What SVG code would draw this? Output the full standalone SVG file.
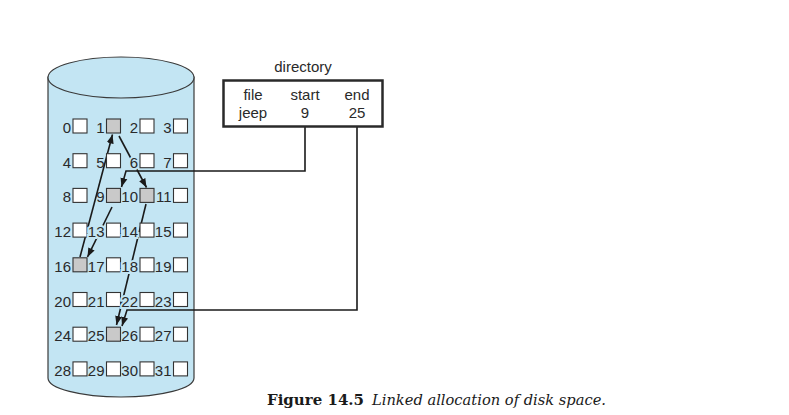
<svg xmlns="http://www.w3.org/2000/svg" width="789" height="415" viewBox="0 0 789 415">
<style>
.cyl{fill:#c3e5f3;stroke:#3a3a3a;stroke-width:1.2}
.sq{fill:#fff;stroke:#333;stroke-width:1.1}
.sh{fill:#c9c9c9;stroke:#333;stroke-width:1.1}
.lb{font-family:"Liberation Sans",Arial,sans-serif;font-size:15px;fill:#2a2a2a;text-anchor:end}
.k{stroke:#c3e5f3;stroke-width:4;paint-order:stroke}
.dt{font-family:"Liberation Sans",Arial,sans-serif;font-size:15px;fill:#2a2a2a;text-anchor:middle}
.ln{fill:none;stroke:#1a1a1a;stroke-width:1.6}
.cap{font-family:"DejaVu Serif","Liberation Serif",serif;font-size:15px;fill:#1a1a1a}
</style>
<defs>
<marker id="ah" markerUnits="userSpaceOnUse" markerWidth="10" markerHeight="10" viewBox="0 0 10 10" refX="9" refY="5" orient="auto">
<path d="M0,1.5 L9,5 L0,8.5 Z" fill="#1a1a1a"/>
</marker>
</defs>
<g id="disk">
<path class="cyl" d="M48,77 L48,378 A73,19 0 0 0 194,378 L194,77 Z"/>
<ellipse class="cyl" cx="121" cy="77.5" rx="73" ry="20.5"/>
</g>
<g id="connectors">
<path class="ln" marker-end="url(#ah)" d="M305,127 V171 H126 L121.5,187"/>
<path class="ln" marker-end="url(#ah)" d="M357,127 V310 H127 L122,326"/>
<path class="ln" marker-end="url(#ah)" d="M112,207 L87.5,257"/>
<path class="ln" marker-end="url(#ah)" d="M80,257 L112.5,134.5"/>
<path class="ln" marker-end="url(#ah)" d="M119,136 L146.5,187.5"/>
<path class="ln" marker-end="url(#ah)" d="M146,204 L116.5,325"/>
</g>
<g id="blocks">
<g id="b0"><text class="lb" x="71" y="133">0</text><rect class="sq" x="73" y="119" width="14" height="14"/></g>
<g id="b1"><text class="lb" x="104.5" y="133">1</text><rect class="sh" x="106.5" y="119" width="14" height="14"/></g>
<g id="b2"><text class="lb" x="138" y="133">2</text><rect class="sq" x="140" y="119" width="14" height="14"/></g>
<g id="b3"><text class="lb" x="171.5" y="133">3</text><rect class="sq" x="173.5" y="119" width="14" height="14"/></g>
<g id="b4"><text class="lb" x="71" y="167.7">4</text><rect class="sq" x="73" y="153.7" width="14" height="14"/></g>
<g id="b5"><text class="lb" x="104.5" y="167.7">5</text><rect class="sq" x="106.5" y="153.7" width="14" height="14"/></g>
<g id="b6"><text class="lb k" x="138" y="167.7">6</text><rect class="sq" x="140" y="153.7" width="14" height="14"/></g>
<g id="b7"><text class="lb" x="171.5" y="167.7">7</text><rect class="sq" x="173.5" y="153.7" width="14" height="14"/></g>
<g id="b8"><text class="lb" x="71" y="202.4">8</text><rect class="sq" x="73" y="188.4" width="14" height="14"/></g>
<g id="b9"><text class="lb" x="104.5" y="202.4">9</text><rect class="sh" x="106.5" y="188.4" width="14" height="14"/></g>
<g id="b10"><text class="lb" x="138" y="202.4">10</text><rect class="sh" x="140" y="188.4" width="14" height="14"/></g>
<g id="b11"><text class="lb" x="171.5" y="202.4">11</text><rect class="sq" x="173.5" y="188.4" width="14" height="14"/></g>
<g id="b12"><text class="lb" x="71" y="237.1">12</text><rect class="sq" x="73" y="223.1" width="14" height="14"/></g>
<g id="b13"><text class="lb k" x="104.5" y="237.1">13</text><rect class="sq" x="106.5" y="223.1" width="14" height="14"/></g>
<g id="b14"><text class="lb k" x="138" y="237.1">14</text><rect class="sq" x="140" y="223.1" width="14" height="14"/></g>
<g id="b15"><text class="lb" x="171.5" y="237.1">15</text><rect class="sq" x="173.5" y="223.1" width="14" height="14"/></g>
<g id="b16"><text class="lb" x="71" y="271.8">16</text><rect class="sh" x="73" y="257.8" width="14" height="14"/></g>
<g id="b17"><text class="lb" x="104.5" y="271.8">17</text><rect class="sq" x="106.5" y="257.8" width="14" height="14"/></g>
<g id="b18"><text class="lb k" x="138" y="271.8">18</text><rect class="sq" x="140" y="257.8" width="14" height="14"/></g>
<g id="b19"><text class="lb" x="171.5" y="271.8">19</text><rect class="sq" x="173.5" y="257.8" width="14" height="14"/></g>
<g id="b20"><text class="lb" x="71" y="306.5">20</text><rect class="sq" x="73" y="292.5" width="14" height="14"/></g>
<g id="b21"><text class="lb" x="104.5" y="306.5">21</text><rect class="sq" x="106.5" y="292.5" width="14" height="14"/></g>
<g id="b22"><text class="lb k" x="138" y="306.5">22</text><rect class="sq" x="140" y="292.5" width="14" height="14"/></g>
<g id="b23"><text class="lb" x="171.5" y="306.5">23</text><rect class="sq" x="173.5" y="292.5" width="14" height="14"/></g>
<g id="b24"><text class="lb" x="71" y="341.2">24</text><rect class="sq" x="73" y="327.2" width="14" height="14"/></g>
<g id="b25"><text class="lb" x="104.5" y="341.2">25</text><rect class="sh" x="106.5" y="327.2" width="14" height="14"/></g>
<g id="b26"><text class="lb" x="138" y="341.2">26</text><rect class="sq" x="140" y="327.2" width="14" height="14"/></g>
<g id="b27"><text class="lb" x="171.5" y="341.2">27</text><rect class="sq" x="173.5" y="327.2" width="14" height="14"/></g>
<g id="b28"><text class="lb" x="71" y="375.9">28</text><rect class="sq" x="73" y="361.9" width="14" height="14"/></g>
<g id="b29"><text class="lb" x="104.5" y="375.9">29</text><rect class="sq" x="106.5" y="361.9" width="14" height="14"/></g>
<g id="b30"><text class="lb" x="138" y="375.9">30</text><rect class="sq" x="140" y="361.9" width="14" height="14"/></g>
<g id="b31"><text class="lb" x="171.5" y="375.9">31</text><rect class="sq" x="173.5" y="361.9" width="14" height="14"/></g>
</g>
<g id="directory">
<text class="dt" x="303" y="72">directory</text>
<rect x="223.5" y="80.5" width="159" height="46" fill="#fff" stroke="#2a2a2a" stroke-width="2.5"/>
<text class="dt" x="253" y="100">file</text>
<text class="dt" x="305" y="100">start</text>
<text class="dt" x="357" y="100">end</text>
<text class="dt" x="253" y="118">jeep</text>
<text class="dt" x="305" y="118">9</text>
<text class="dt" x="357" y="118">25</text>
</g>
<g id="caption">
<text class="cap" x="267" y="405" font-weight="bold" textLength="97" lengthAdjust="spacingAndGlyphs">Figure 14.5</text>
<text class="cap" x="372" y="405" font-style="italic" textLength="234" lengthAdjust="spacingAndGlyphs">Linked allocation of disk space.</text>
</g>
</svg>
